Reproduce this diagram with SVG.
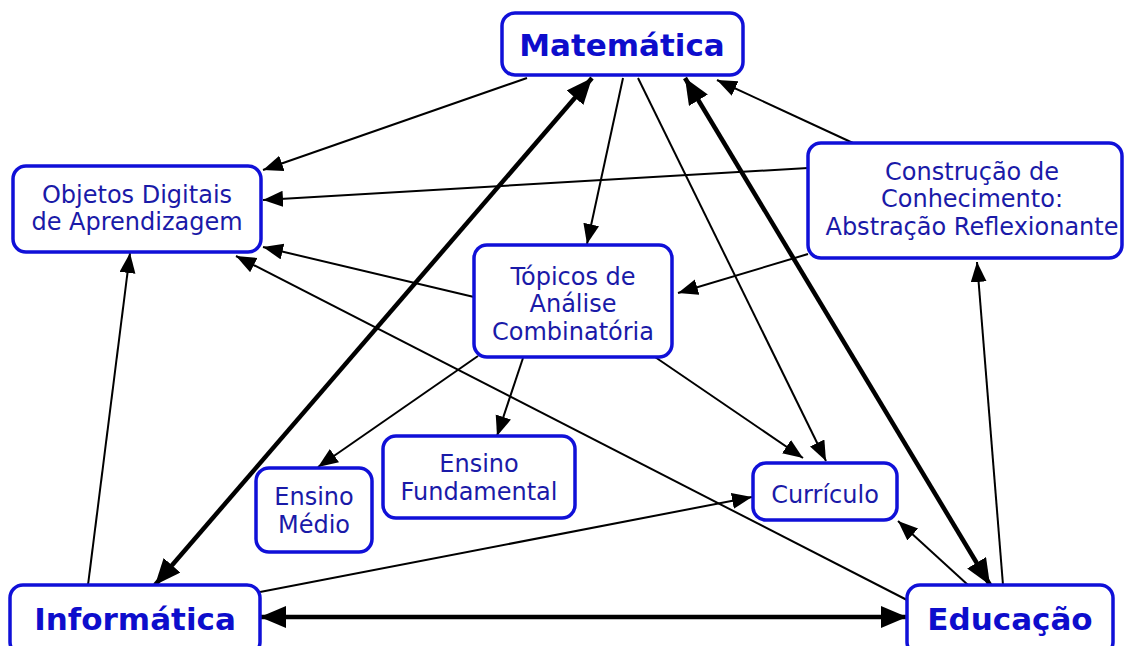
<svg xmlns="http://www.w3.org/2000/svg" width="1126" height="646" viewBox="0 0 1126 646">
<defs>
<style>
.box{fill:#fff;stroke:#1010d8;stroke-width:3.5}
.t{font-family:"DejaVu Sans","Verdana",sans-serif;font-size:24px;fill:#1a1aa8;text-anchor:middle}
.tb{font-family:"DejaVu Sans","Verdana",sans-serif;font-size:31px;font-weight:bold;fill:#0d0dcc;text-anchor:middle}
.thin{stroke:#000;stroke-width:2;fill:none;marker-end:url(#ah)}
.thick{stroke:#000;stroke-width:4.5;fill:none;marker-end:url(#ahb);marker-start:url(#ahb)}
</style>
<marker id="ah" markerUnits="userSpaceOnUse" markerWidth="22" markerHeight="18" refX="20" refY="8" orient="auto">
<path d="M0,0 L20,8 L0,16 z" fill="#000"/>
</marker>
<marker id="ahb" markerUnits="userSpaceOnUse" markerWidth="28" markerHeight="24" refX="26" refY="11" orient="auto-start-reverse">
<path d="M0,0 L26,11 L0,22 z" fill="#000"/>
</marker>
</defs>
<rect width="1126" height="646" fill="#fff"/>
<g id="connectors">
<line class="thin" x1="527" y1="78" x2="263" y2="170"/>
<line class="thin" x1="623" y1="78" x2="587" y2="244"/>
<line class="thin" x1="638" y1="78" x2="826" y2="461"/>
<line class="thin" x1="655" y1="357" x2="803" y2="458"/>
<line class="thin" x1="853" y1="143" x2="717" y2="80"/>
<line class="thin" x1="808" y1="168" x2="263" y2="200"/>
<line class="thin" x1="808" y1="254" x2="678" y2="293"/>
<line class="thin" x1="474" y1="297" x2="263" y2="247"/>
<line class="thin" x1="478" y1="356" x2="318" y2="467"/>
<line class="thin" x1="523" y1="358" x2="497" y2="436"/>
<line class="thin" x1="88" y1="585" x2="130" y2="253"/>
<line class="thin" x1="907" y1="600" x2="236" y2="256"/>
<line class="thin" x1="968" y1="585" x2="898" y2="521"/>
<line class="thin" x1="1003" y1="585" x2="977" y2="262"/>
<line class="thin" x1="260" y1="592" x2="752" y2="497"/>
<line class="thick" x1="155" y1="585" x2="592" y2="78"/>
<line class="thick" x1="685" y1="78" x2="990" y2="585"/>
<line class="thick" x1="260" y1="617" x2="907" y2="617"/>
</g>
<g id="matematica">
<rect class="box" x="502" y="13" width="241" height="62" rx="13"/>
<text class="tb" x="622" y="56">Matemática</text>
</g>
<g id="objetos">
<rect class="box" x="13" y="166" width="248" height="86" rx="13"/>
<text class="t" x="137" y="203">Objetos Digitais</text>
<text class="t" x="137" y="230">de Aprendizagem</text>
</g>
<g id="construcao">
<rect class="box" x="808" y="143" width="314" height="115" rx="13"/>
<text class="t" x="972" y="180">Construção de</text>
<text class="t" x="972" y="207">Conhecimento:</text>
<text class="t" x="972" y="235">Abstração Reflexionante</text>
</g>
<g id="topicos">
<rect class="box" x="474" y="245" width="198" height="112" rx="13"/>
<text class="t" x="573" y="285">Tópicos de</text>
<text class="t" x="573" y="312">Análise</text>
<text class="t" x="573" y="340">Combinatória</text>
</g>
<g id="ensino-medio">
<rect class="box" x="256" y="468" width="116" height="84" rx="13"/>
<text class="t" x="314" y="505">Ensino</text>
<text class="t" x="314" y="533">Médio</text>
</g>
<g id="ensino-fundamental">
<rect class="box" x="383" y="436" width="192" height="82" rx="13"/>
<text class="t" x="479" y="472">Ensino</text>
<text class="t" x="479" y="500">Fundamental</text>
</g>
<g id="curriculo">
<rect class="box" x="753" y="463" width="144" height="57" rx="13"/>
<text class="t" x="825" y="503">Currículo</text>
</g>
<g id="informatica">
<rect class="box" x="10" y="585" width="250" height="70" rx="13"/>
<text class="tb" x="135" y="630">Informática</text>
</g>
<g id="educacao">
<rect class="box" x="907" y="585" width="206" height="70" rx="13"/>
<text class="tb" x="1010" y="630">Educação</text>
</g>
</svg>
